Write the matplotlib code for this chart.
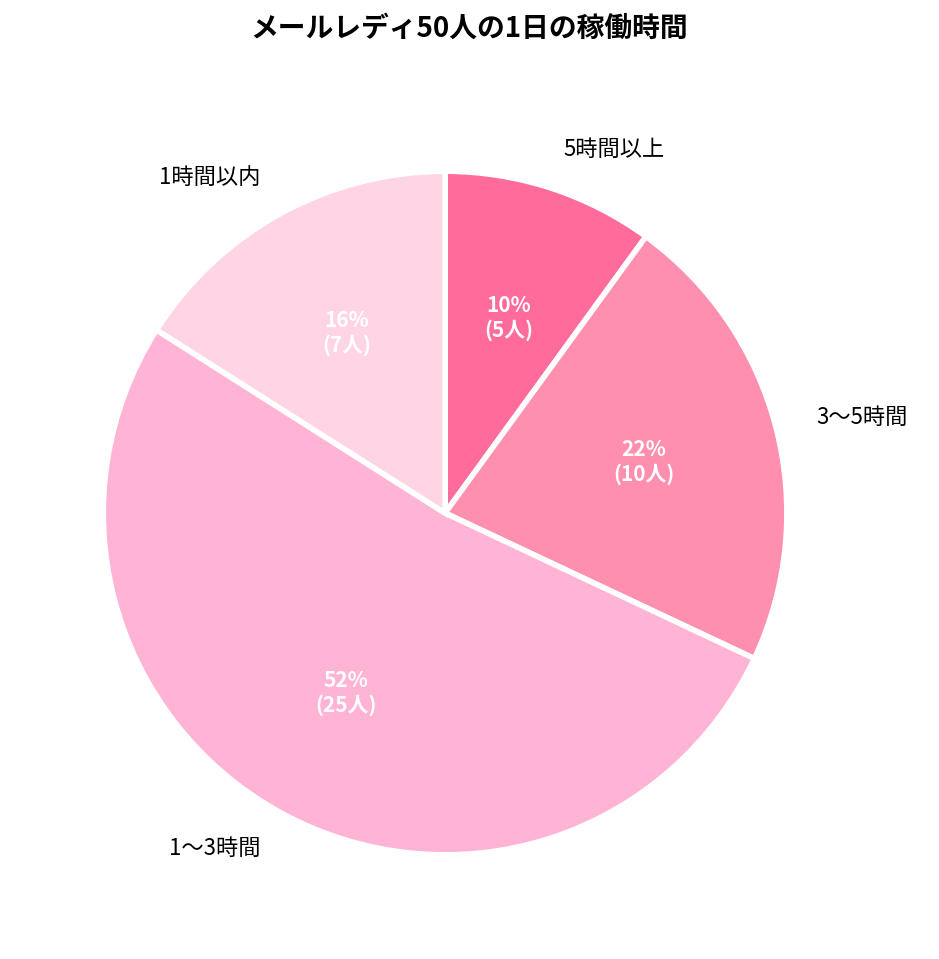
import matplotlib
matplotlib.use("Agg")
import matplotlib.pyplot as plt
import numpy as np

plt.rcParams['font.family'] = ['Noto Sans CJK JP', 'DejaVu Sans']

categories = ['5時間以上', '3〜5時間', '1〜3時間', '1時間以内']
percents = [10, 22, 52, 16]
people = [5, 10, 25, 7]
colors = ['#FF6B9B', '#FF8FAE', '#FFB4D6', '#FFD5E6']

fig = plt.figure(figsize=(9.39, 9.59), dpi=100)
ax = fig.add_axes([0.474 - 0.364, 0.465 - 0.357, 0.728, 0.714])
labels_pct = [f'{p}%\n({n}人)' for p, n in zip(percents, people)]
wedges, texts = ax.pie(percents, labels=categories, colors=colors, startangle=90,
                       counterclock=False, labeldistance=1.12,
                       wedgeprops=dict(edgecolor='white', linewidth=4),
                       textprops=dict(fontsize=16))
for w, t in zip(wedges, labels_pct):
    ang = np.deg2rad((w.theta1 + w.theta2) / 2)
    ax.text(0.6 * np.cos(ang), 0.6 * np.sin(ang), t, ha='center', va='center',
            color='white', fontsize=15, fontweight='bold', linespacing=1.2)
ax.set_xlim(-1, 1)
ax.set_ylim(-1, 1)
ax.set_aspect('equal')
fig.suptitle('メールレディ50人の1日の稼働時間', fontsize=20, fontweight='bold', y=0.985)
fig.savefig('out.png', dpi=100)
